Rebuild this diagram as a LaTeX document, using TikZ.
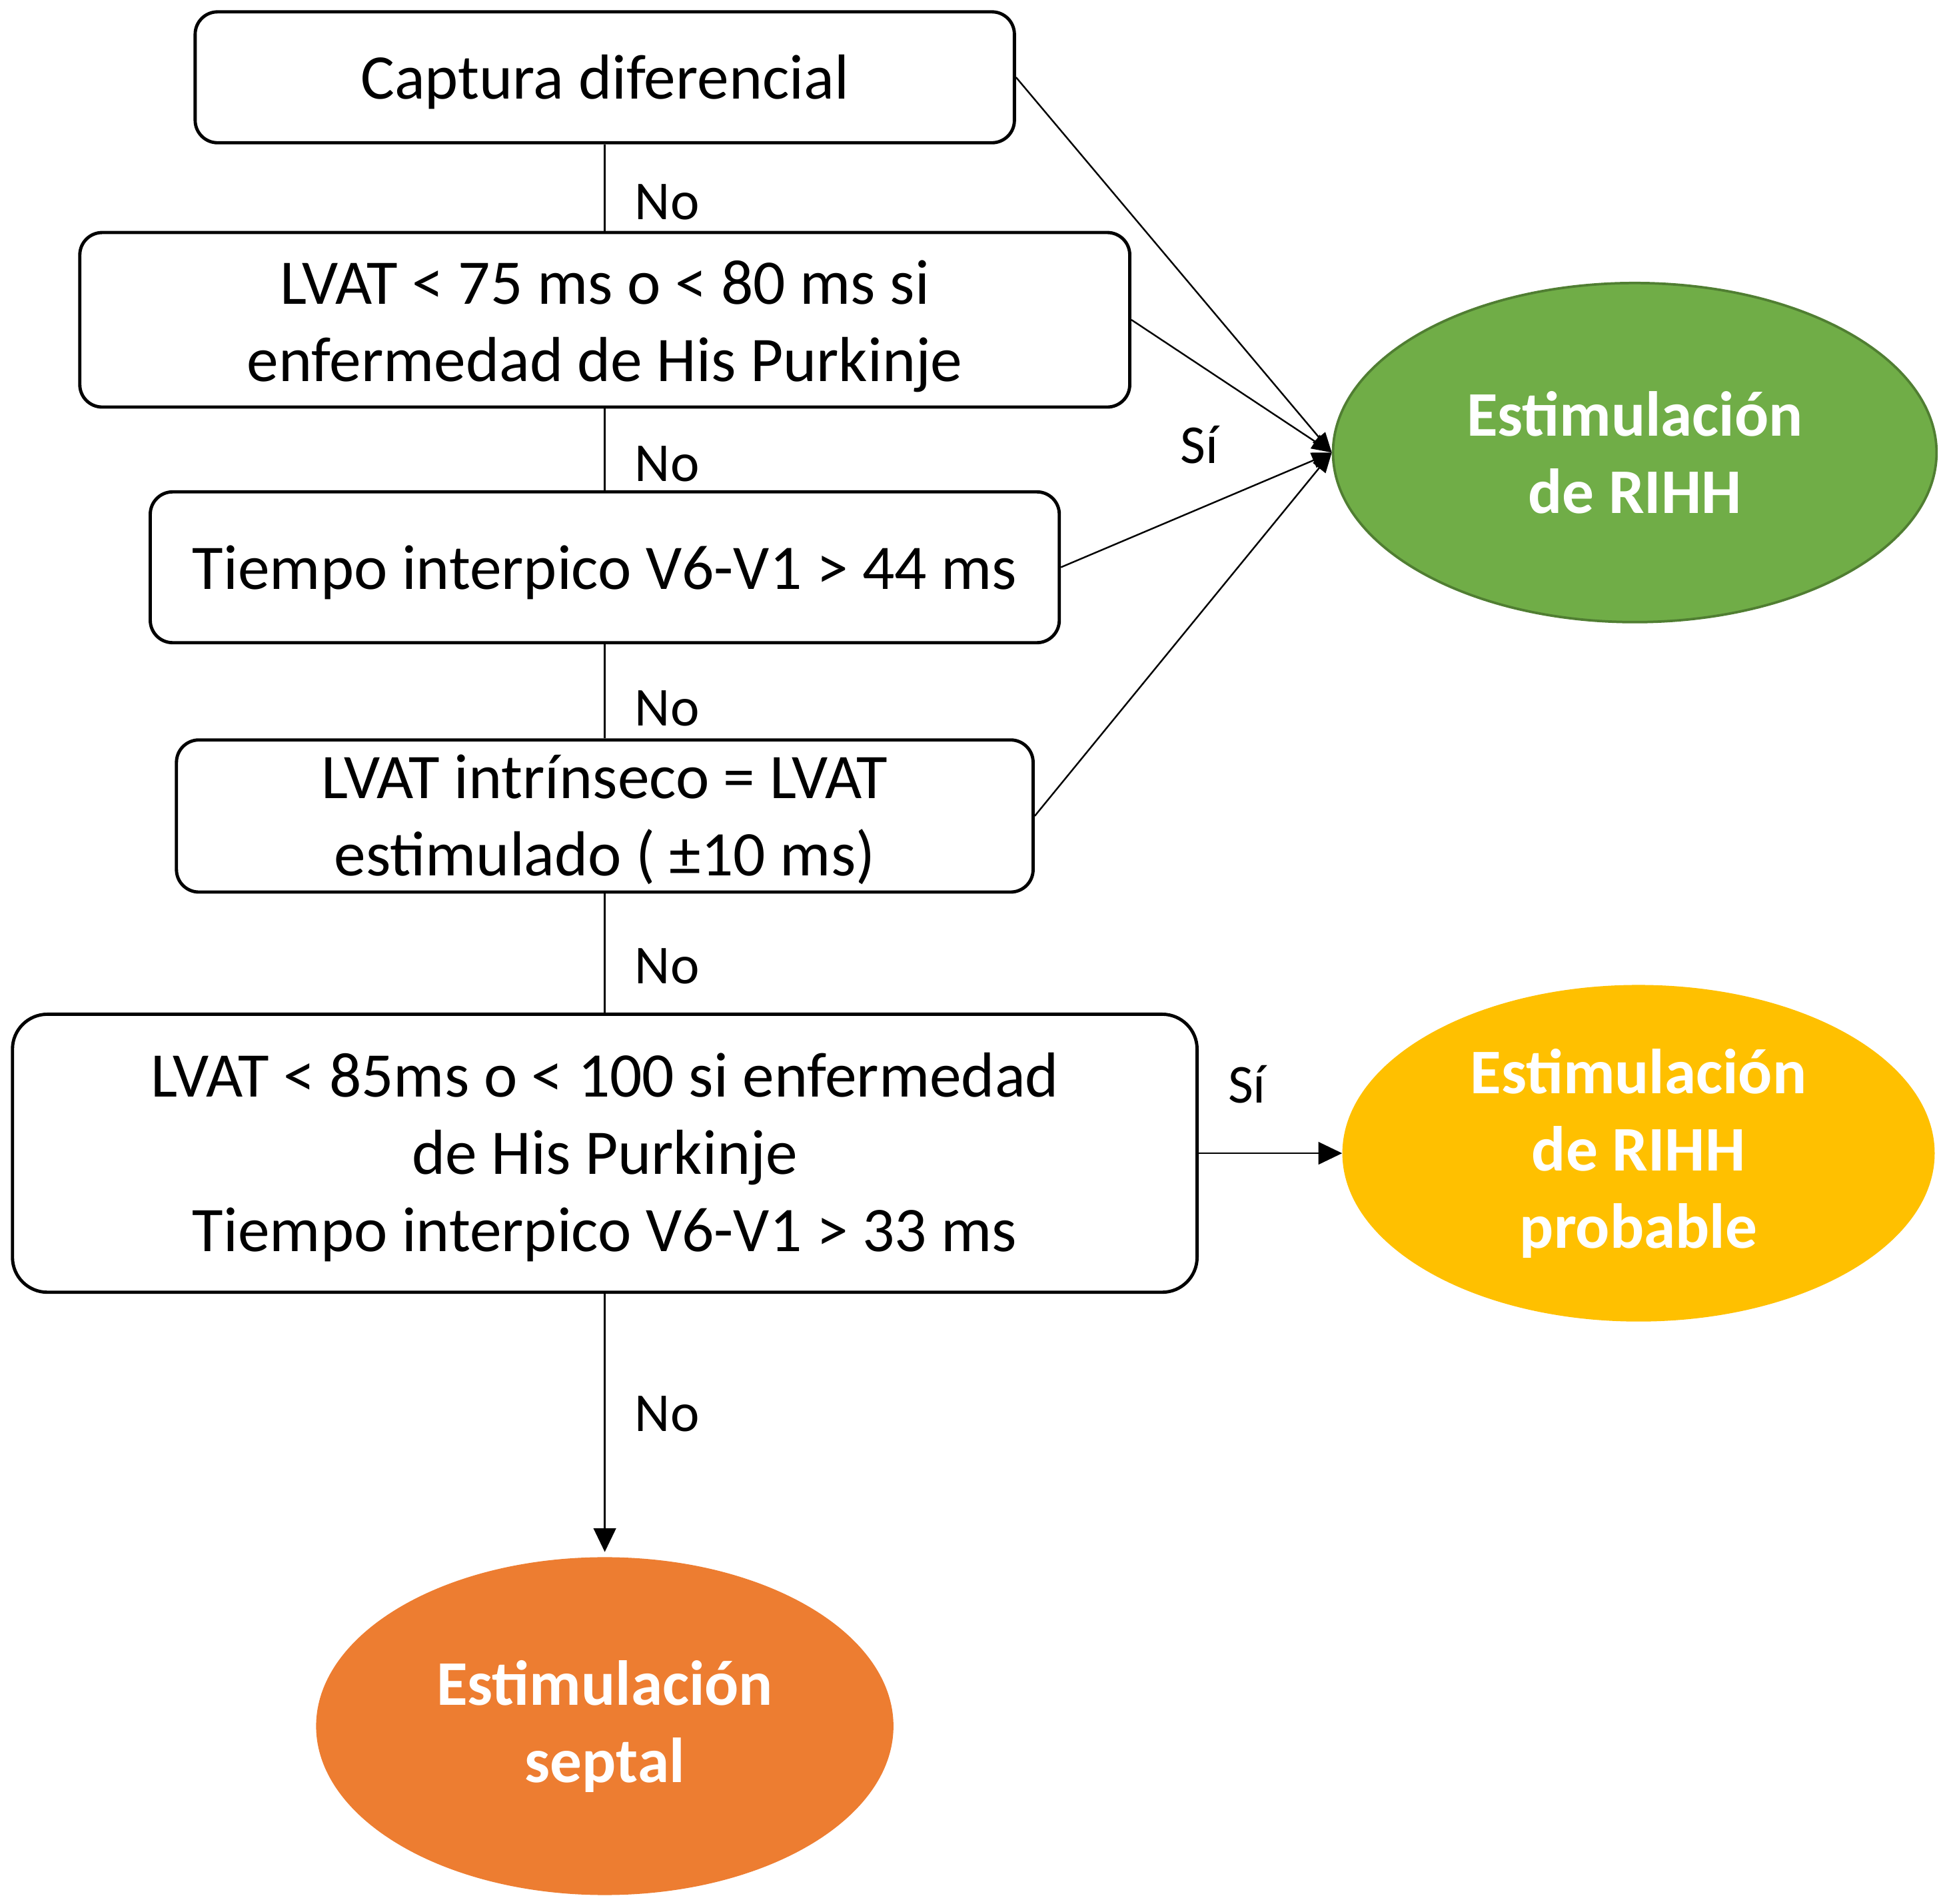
\documentclass[tikz,border=0pt]{standalone}
\usepackage{fontspec}
\setmainfont{Carlito}
\usetikzlibrary{arrows.meta,shapes.geometric}
\definecolor{egreen}{HTML}{70AD47}
\definecolor{egreenb}{HTML}{507E32}
\definecolor{eyellow}{HTML}{FFC000}
\definecolor{eorange}{HTML}{ED7D31}
\begin{document}
\begin{tikzpicture}[x=1pt,y=-1pt,
  box/.style={draw=black,line width=2.6pt,rounded corners=18pt,fill=white,inner sep=0pt},
  txt/.style={inner sep=0pt,align=center,font=\fontsize{51}{62}\selectfont},
  oval/.style={ellipse,inner sep=0pt,align=center,text=white,font=\fontsize{51}{62}\selectfont\bfseries},
  lbl/.style={font=\fontsize{44}{50}\selectfont,inner sep=0pt},
  conn/.style={line width=1.3pt,draw=black},
  bigtip/.style={-{Triangle[length=19pt,width=18pt]}},
  smalltip/.style={-{Triangle[length=16pt,width=13pt]}}
]
\useasboundingbox (0,0) rectangle (1563,1526.7);

\node[box,minimum width=657pt,minimum height=105pt] (b1) at (485,62) {};
\node[box,minimum width=842pt,minimum height=140pt] (b2) at (485,256.5) {};
\node[box,minimum width=729pt,minimum height=121pt] (b3) at (485,455) {};
\node[box,minimum width=687pt,minimum height=122pt] (b4) at (485,654.5) {};
\node[box,rounded corners=28pt,minimum width=950pt,minimum height=223pt] (b5) at (485,925) {};

\node[txt] (t1) at ([yshift=-3.5pt]b1.center) {Captura diferencial};
\node[txt] (t2) at ([yshift=-5pt]b2.center) {LVAT < 75 ms o < 80 ms si\\enfermedad de His Purkinje};
\node[txt] (t3) at ([yshift=-4pt]b3.center) {Tiempo interpico V6-V1 > 44 ms};
\node[txt] (t4) at ([yshift=-3pt]b4.center) {LVAT intrínseco = LVAT\\estimulado ( ±10 ms)};
\node[txt] (t5) at ([yshift=-3pt]b5.center) {LVAT < 85ms o < 100 si enfermedad\\de His Purkinje\\Tiempo interpico V6-V1 > 33 ms};

\node[oval,fill=egreen,draw=egreenb,line width=2pt,minimum width=484pt,minimum height=272pt] (e1) at (1311,363) {Estimulación\\de RIHH};
\node[oval,fill=eyellow,minimum width=475pt,minimum height=270pt] (e2) at (1314,925) {Estimulación\\de RIHH\\probable};
\node[oval,fill=eorange,minimum width=463pt,minimum height=271pt] (e3) at (485,1384.5) {Estimulación\\septal};

\draw[conn] (b1.south) -- (b2.north);
\draw[conn] (b2.south) -- (b3.north);
\draw[conn] (b3.south) -- (b4.north);
\draw[conn] (b4.south) -- (b5.north);
\draw[conn,bigtip,shorten >=4pt] (b5.south) -- (e3.north);
\draw[conn,bigtip] (b5.east) -- (b5.east -| e2.west);

\draw[conn,smalltip] (b1.east) -- (e1.west);
\draw[conn,smalltip] (b2.east) -- (e1.west);
\draw[conn,smalltip] (b3.east) -- (e1.west);
\draw[conn,smalltip] (b4.east) -- (e1.west);

\node[lbl,anchor=west] (n1) at (509,162) {No};
\node[lbl,anchor=west] (n2) at (509,372) {No};
\node[lbl,anchor=west] (n3) at (509,568) {No};
\node[lbl,anchor=west] (n4) at (509,775) {No};
\node[lbl,anchor=west] (n5) at (509,1134) {No};
\node[lbl] (s1) at (962,357) {Sí};
\node[lbl] (s2) at (1000,870) {Sí};
\end{tikzpicture}
\end{document}
